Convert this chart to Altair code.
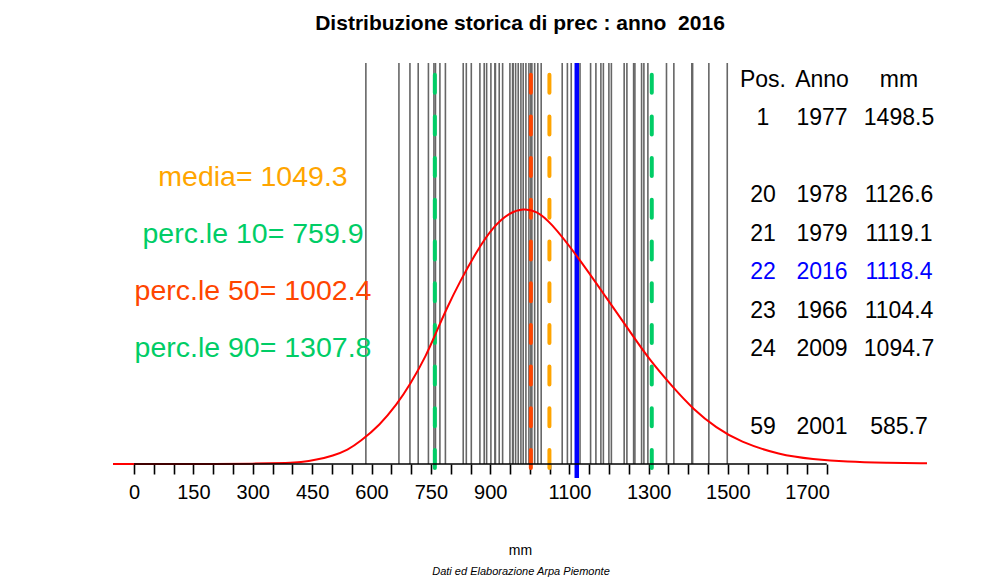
import altair as alt
import pandas as pd

# ---------------- data ----------------
title_text = "Distribuzione storica di prec : anno \u00a02016"
anno_sel = "2016"
val_anno = 1118.4
media = 1049.3
perc10 = 759.9
perc50 = 1002.4
perc90 = 1307.8

# yearly precipitation totals (mm), 59 years, ascending
prec_mm = [
    585.7, 669.2, 697.0, 717.9, 743.7, 757.6, 761.5, 772.7, 786.6, 831.6,
    839.4, 852.0, 873.7, 884.6, 890.7, 901.5, 911.6, 912.9, 922.5, 931.1,
    949.5, 956.3, 957.6, 963.9, 970.5, 977.3, 983.1, 989.9, 997.5, 1002.4,
    1005.0, 1012.0, 1020.0, 1028.5, 1081.6, 1094.7, 1104.4, 1118.4, 1119.1, 1126.6,
    1153.3, 1166.7, 1179.3, 1185.6, 1199.5, 1205.8, 1238.1, 1245.0, 1262.0, 1265.2,
    1282.1, 1287.9, 1298.0, 1345.0, 1363.6, 1409.0, 1411.0, 1452.0, 1498.5,
]

# fitted density curve (x in mm, density x 1e-3)
curve_mm = [-53, 100, 200, 300, 394, 419, 461, 503, 540, 571, 621, 663, 697, 739,
            764, 790, 823, 865, 907, 949, 983, 1017, 1051, 1118, 1194, 1253,
            1303, 1362, 1412, 1471, 1530, 1631, 1715, 1800, 1900, 2003]
curve_dens = [0.0, 0.0, 0.0, 0.002, 0.006, 0.010, 0.026, 0.052, 0.088, 0.140, 0.245,
              0.371, 0.496, 0.685, 0.831, 0.978, 1.145, 1.334, 1.491, 1.580, 1.605,
              1.590, 1.522, 1.313, 1.041, 0.831, 0.650, 0.480, 0.345, 0.226,
              0.140, 0.057, 0.030, 0.014, 0.008, 0.004]

# ranking table
tab_head = ["Pos.", "Anno", "mm"]
tab_pos = ["1", "20", "21", "22", "23", "24", "59"]
tab_anno = ["1977", "1978", "1979", "2016", "1966", "2009", "2001"]
tab_val = ["1498.5", "1126.6", "1119.1", "1118.4", "1104.4", "1094.7", "585.7"]

axis_ticks = list(range(0, 1751, 50))
tick_labels = [0, 150, 300, 450, 600, 750, 900, 1100, 1300, 1500, 1700]

# ---------------- layout ----------------
FONT = "Liberation Sans"
W, H = 814, 415
xscale = alt.Scale(domain=[-53, 2003], nice=False, zero=False)
yscale = alt.Scale(domain=[-0.0879, 2.5188], nice=False, zero=False)
tab_slot = [1, 3, 4, 5, 6, 7, 9]

xaxis = alt.Axis(
    values=axis_ticks, format="d",
    labelExpr="indexof(" + str(tick_labels) + ", datum.value) >= 0 ? datum.label : ''",
    tickSize=10, tickWidth=1.6, tickColor="black", domain=False, grid=False,
    labelFontSize=20, labelFont=FONT, labelColor="black", labelPadding=8,
    labelFlush=False, labelOverlap=False, offset=-14,
    title="mm", titleFont=FONT, titleFontSize=14, titleFontWeight="normal",
    titleColor="black", titlePadding=41,
)

years_df = pd.DataFrame({"mm": prec_mm})
curve_df = pd.DataFrame({"mm": curve_mm, "dens": curve_dens})
dash_df = pd.DataFrame({
    "mm": [perc10, perc50, media, perc90],
    "col": ["#00CD66", "#FF4500", "#FFA500", "#00CD66"],
})
anno_df = pd.DataFrame({"mm": [val_anno]})

gray = alt.Chart(years_df).mark_rule(color="#666666", strokeWidth=1.6).encode(
    x=alt.X("mm:Q", scale=xscale, axis=xaxis),
    y=alt.YDatum(0, scale=yscale, axis=None),
    y2=alt.value(0),
)

base_rule = alt.Chart(pd.DataFrame({"a": [axis_ticks[0]], "b": [axis_ticks[-1]]})).mark_rule(
    color="black", strokeWidth=1.6
).encode(
    x=alt.X("a:Q", scale=xscale, axis=xaxis),
    x2="b:Q",
    y=alt.YDatum(0, scale=yscale, axis=None),
)

dashed = alt.Chart(dash_df).mark_rule(
    strokeWidth=4, strokeDash=[18, 23.7], strokeDashOffset=30, strokeCap="round"
).encode(
    x=alt.X("mm:Q", scale=xscale, axis=xaxis),
    color=alt.Color("col:N", scale=None),
)

blue = alt.Chart(anno_df).mark_rule(color="#0000FF", strokeWidth=4.5).encode(
    x=alt.X("mm:Q", scale=xscale, axis=xaxis),
)

curve = alt.Chart(curve_df).mark_line(color="#FF0000", strokeWidth=2, interpolate="basis").encode(
    x=alt.X("mm:Q", scale=xscale, axis=xaxis),
    y=alt.Y("dens:Q", scale=yscale, axis=None),
)

# left labels
lab_df = pd.DataFrame({
    "txt": [f"media= {media}", f"perc.le 10= {perc10}", f"perc.le 50= {perc50}", f"perc.le 90= {perc90}"],
    "col": ["#FFA500", "#00CD66", "#FF4500", "#00CD66"],
    "k": [0, 1, 2, 3],
})
labels = alt.Chart(lab_df).mark_text(font=FONT, fontSize=28.5, align="center", baseline="middle").encode(
    x=alt.value(140),
    y=alt.Y("k:Q", scale=alt.Scale(domain=[0, 3], range=[114, 285]), axis=None),
    text="txt:N",
    color=alt.Color("col:N", scale=None),
)

# table
tab_df = pd.DataFrame({
    "pos": [tab_head[0]] + tab_pos,
    "anno": [tab_head[1]] + tab_anno,
    "val": [tab_head[2]] + tab_val,
    "slot": [0] + tab_slot,
})
tcolor = alt.condition(alt.datum.anno == anno_sel, alt.value("#0000FF"), alt.value("black"))
tab_layers = []
for field, xpix in [("pos", 650), ("anno", 709), ("val", 786)]:
    tab_layers.append(
        alt.Chart(tab_df).mark_text(font=FONT, fontSize=23, align="center", baseline="middle").encode(
            x=alt.value(xpix),
            y=alt.Y("slot:Q", scale=alt.Scale(domain=[0, 9], range=[16.5, 363.5]), axis=None),
            text=f"{field}:N",
            color=tcolor,
        )
    )

caption = alt.Chart(pd.DataFrame({"t": ["Dati ed Elaborazione Arpa Piemonte"]})).mark_text(
    font=FONT, fontSize=11, fontStyle="italic", align="center", baseline="middle", color="black"
).encode(x=alt.value(408), y=alt.value(509), text="t:N")

chart = alt.layer(
    gray, dashed, blue, curve, base_rule, labels, *tab_layers, caption
).resolve_scale(y="independent").properties(
    width=W, height=H,
    title=alt.TitleParams(title_text, font=FONT, fontSize=21, fontWeight="bold",
                          anchor="middle", offset=27, color="black"),
    padding={"left": 109, "top": 12, "right": 0, "bottom": 0},
).configure(background="white", view=alt.ViewConfig(stroke=None))

chart.save("out.html", embed_options={"renderer": "svg", "actions": False})
